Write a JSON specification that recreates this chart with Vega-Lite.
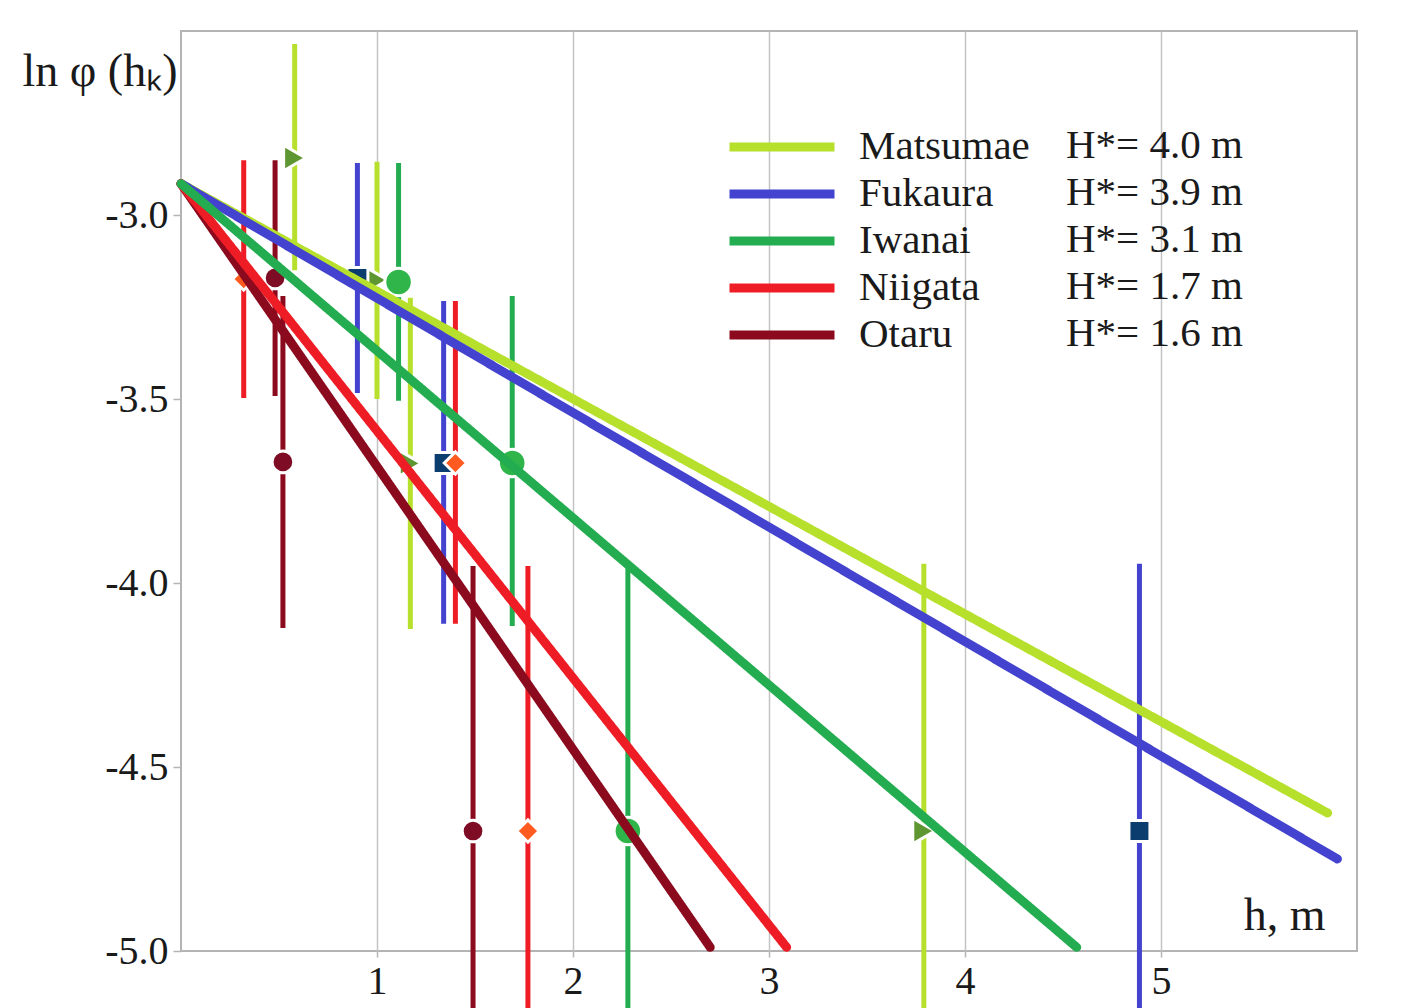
{
  "$schema": "https://vega.github.io/schema/vega-lite/v6.json",
  "autosize": "none",
  "width": 1176,
  "height": 920,
  "padding": {"left": 181, "top": 31, "right": 54, "bottom": 57},
  "background": "#ffffff",
  "config": {
    "font": "Liberation Serif",
    "view": {"stroke": "#b4b4b4", "strokeWidth": 2},
    "axis": {"labelFont": "Liberation Serif", "titleFont": "Liberation Serif", "labelColor": "#1a1a1a", "titleColor": "#1a1a1a", "labelFontSize": 40, "titleFontSize": 46, "titleFontWeight": "normal", "domain": false, "tickColor": "#b4b4b4", "tickWidth": 1.5, "gridColor": "#c4c4c4", "gridWidth": 1.5},
    "legend": {"labelFont": "Liberation Serif", "labelFontSize": 41, "labelColor": "#1a1a1a", "padding": 0, "labelLimit": 0}
  },
  "datasets": {
    "lines": [
      {"station": "Matsumae", "hstar": "H*= 4.0 m", "h": 0, "lnphi": -2.915},
      {"station": "Matsumae", "hstar": "H*= 4.0 m", "h": 5.85, "lnphi": -4.625},
      {"station": "Fukaura", "hstar": "H*= 3.9 m", "h": 0, "lnphi": -2.915},
      {"station": "Fukaura", "hstar": "H*= 3.9 m", "h": 5.9, "lnphi": -4.75},
      {"station": "Otaru", "hstar": "H*= 1.6 m", "h": 0, "lnphi": -2.915},
      {"station": "Otaru", "hstar": "H*= 1.6 m", "h": 2.7, "lnphi": -4.99},
      {"station": "Niigata", "hstar": "H*= 1.7 m", "h": 0, "lnphi": -2.915},
      {"station": "Niigata", "hstar": "H*= 1.7 m", "h": 3.09, "lnphi": -4.99},
      {"station": "Iwanai", "hstar": "H*= 3.1 m", "h": 0, "lnphi": -2.915},
      {"station": "Iwanai", "hstar": "H*= 3.1 m", "h": 4.57, "lnphi": -4.99}
    ],
    "points": [
      {"station": "Matsumae", "h": 0.58, "lnphi": -2.845, "lo": -3.15, "hi": -2.535},
      {"station": "Matsumae", "h": 1.0, "lnphi": -3.177, "lo": -3.5, "hi": -2.855},
      {"station": "Matsumae", "h": 1.17, "lnphi": -3.675, "lo": -4.125, "hi": -3.225},
      {"station": "Matsumae", "h": 3.79, "lnphi": -4.674, "lo": -5.4, "hi": -3.948},
      {"station": "Fukaura", "h": 0.9, "lnphi": -3.171, "lo": -3.484, "hi": -2.859},
      {"station": "Fukaura", "h": 1.34, "lnphi": -3.674, "lo": -4.111, "hi": -3.234},
      {"station": "Fukaura", "h": 4.89, "lnphi": -4.674, "lo": -5.4, "hi": -3.948},
      {"station": "Iwanai", "h": 1.11, "lnphi": -3.182, "lo": -3.505, "hi": -2.859},
      {"station": "Iwanai", "h": 1.69, "lnphi": -3.674, "lo": -4.117, "hi": -3.22},
      {"station": "Iwanai", "h": 2.28, "lnphi": -4.674, "lo": -5.4, "hi": -3.948},
      {"station": "Niigata", "h": 0.32, "lnphi": -3.174, "lo": -3.497, "hi": -2.851},
      {"station": "Niigata", "h": 1.4, "lnphi": -3.674, "lo": -4.111, "hi": -3.234},
      {"station": "Niigata", "h": 1.77, "lnphi": -4.674, "lo": -5.4, "hi": -3.954},
      {"station": "Otaru", "h": 0.48, "lnphi": -3.171, "lo": -3.492, "hi": -2.851},
      {"station": "Otaru", "h": 0.52, "lnphi": -3.671, "lo": -4.122, "hi": -3.22},
      {"station": "Otaru", "h": 1.49, "lnphi": -4.674, "lo": -5.4, "hi": -3.954}
    ]
  },
  "encoding": {
    "x": {"type": "quantitative", "scale": {"domain": [0, 6], "nice": false, "zero": false},
      "axis": {"values": [1, 2, 3, 4, 5], "grid": true, "tickSize": 6, "labelPadding": 4, "title": "h, m", "titleAlign": "right", "titleBaseline": "alphabetic", "titleX": 1144, "titleY": -22, "titleAnchor": null}},
    "y": {"type": "quantitative", "scale": {"domain": [-5, -2.5], "nice": false, "zero": false},
      "axis": {"values": [-3, -3.5, -4, -4.5, -5], "grid": false, "tickSize": 8, "labelPadding": 5, "labelExpr": "replace(format(datum.value, '.1f'), '\u2212', '-')", "title": "ln \u03c6 (h\u2096)", "titleAngle": 0, "titleAlign": "left", "titleBaseline": "alphabetic", "titleX": -159, "titleY": 54, "titleAnchor": null}}
  },
  "layer": [
    {
      "data": {"name": "points"},
      "mark": {"type": "rule", "strokeWidth": 5},
      "encoding": {
        "x": {"field": "h"},
        "y": {"field": "lo"},
        "y2": {"field": "hi"},
        "color": {"field": "station", "type": "nominal"}
      }
    },
    {
      "data": {"name": "points"},
      "transform": [{"filter": "datum.station == 'Matsumae'"}],
      "mark": {"type": "point", "shape": "triangle-right", "filled": true, "fill": "#5e9632", "opacity": 1, "size": 650, "stroke": "#ffffff", "strokeWidth": 3},
      "encoding": {"x": {"field": "h"}, "y": {"field": "lnphi"}}
    },
    {
      "data": {"name": "points"},
      "transform": [{"filter": "datum.station == 'Fukaura'"}],
      "mark": {"type": "point", "shape": "square", "filled": true, "fill": "#0b3d6e", "opacity": 1, "size": 440, "stroke": "#ffffff", "strokeWidth": 3},
      "encoding": {"x": {"field": "h"}, "y": {"field": "lnphi"}}
    },
    {
      "data": {"name": "points"},
      "transform": [{"filter": "datum.station == 'Iwanai'"}],
      "mark": {"type": "point", "shape": "circle", "filled": true, "fill": "#2fb54a", "opacity": 1, "size": 760, "stroke": "#ffffff", "strokeWidth": 3},
      "encoding": {"x": {"field": "h"}, "y": {"field": "lnphi"}}
    },
    {
      "data": {"name": "points"},
      "transform": [{"filter": "datum.station == 'Niigata'"}],
      "mark": {"type": "point", "shape": "diamond", "filled": true, "fill": "#ff5a1f", "opacity": 1, "size": 500, "stroke": "#ffffff", "strokeWidth": 3},
      "encoding": {"x": {"field": "h"}, "y": {"field": "lnphi"}}
    },
    {
      "data": {"name": "points"},
      "transform": [{"filter": "datum.station == 'Otaru'"}],
      "mark": {"type": "point", "shape": "circle", "filled": true, "fill": "#7d0c24", "opacity": 1, "size": 470, "stroke": "#ffffff", "strokeWidth": 3},
      "encoding": {"x": {"field": "h"}, "y": {"field": "lnphi"}}
    },
    {
      "data": {"name": "lines"},
      "mark": {"type": "line", "strokeWidth": 9, "strokeCap": "round"},
      "encoding": {
        "x": {"field": "h"},
        "y": {"field": "lnphi"},
        "color": {"field": "station", "type": "nominal",
          "scale": {"domain": ["Matsumae", "Fukaura", "Iwanai", "Niigata", "Otaru"], "range": ["#b6e02c", "#4343cf", "#24ad50", "#ee1d25", "#8b0a1e"]},
          "legend": {"title": null, "orient": "none", "legendX": 579, "legendY": 94, "symbolType": "M-3,0H3", "symbolSize": 1225, "symbolStrokeWidth": 9, "symbolFillColor": "transparent", "labelOffset": 55, "rowPadding": 5}},
        "strokeDash": {"field": "hstar", "type": "nominal",
          "scale": {"domain": ["H*= 4.0 m", "H*= 3.9 m", "H*= 3.1 m", "H*= 1.7 m", "H*= 1.6 m"], "range": [[1, 0], [1, 0], [1, 0], [1, 0], [1, 0]]},
          "legend": {"title": null, "orient": "none", "legendX": 844, "legendY": 94, "symbolType": "stroke", "symbolSize": 0, "symbolStrokeWidth": 0, "symbolOpacity": 0, "labelOffset": 0, "rowPadding": 5}}
      }
    }
  ]
}
